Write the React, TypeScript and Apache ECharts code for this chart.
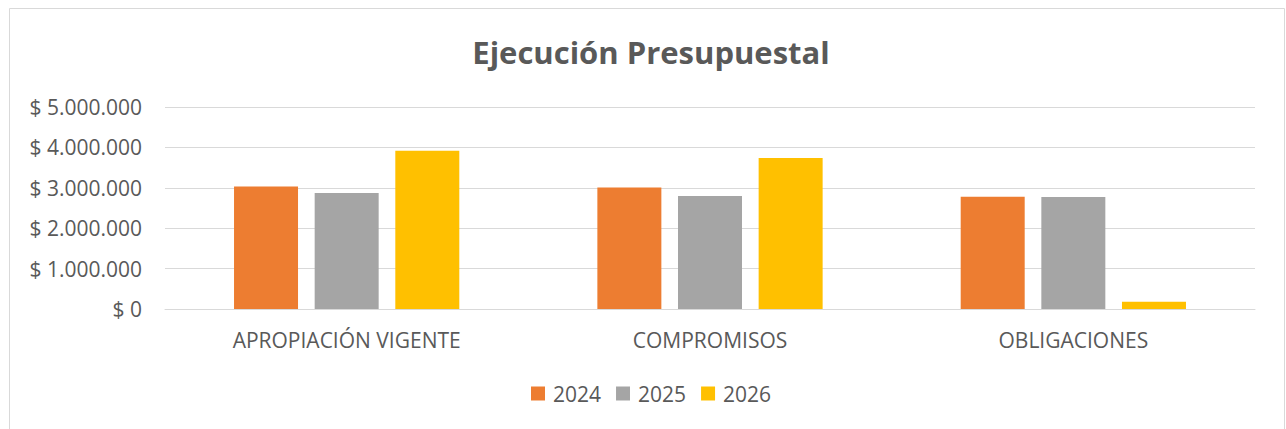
import React, { useEffect, useRef } from "react";
import * as echarts from "echarts";

const categories = ["APROPIACIÓN VIGENTE", "COMPROMISOS", "OBLIGACIONES"];
const seriesNames = ["2024", "2025", "2026"];
const values2024 = [3030000, 3010000, 2780000];
const values2025 = [2870000, 2800000, 2770000];
const values2026 = [3920000, 3740000, 180000];
const colors = ["#ED7D31", "#A5A5A5", "#FFC000"];
const yTicks = [0, 1000000, 2000000, 3000000, 4000000, 5000000];

const FONT = "'Open Sans', sans-serif";
const TEXT = "#595959";

function fmt(v: number): string {
  if (v === 0) return "$ 0";
  return "$ " + String(Math.round(v)).replace(/\B(?=(\d{3})+(?!\d))/g, ".");
}

export default function App() {
  const ref = useRef<HTMLDivElement>(null);
  useEffect(() => {
    if (!ref.current) return;
    const chart = echarts.init(ref.current, null, { renderer: "svg" });
    const data = [values2024, values2025, values2026];
    chart.setOption({
      animation: false,
      backgroundColor: "#ffffff",
      title: {
        text: "Ejecución Presupuestal",
        left: 646,
        top: 31,
        textAlign: "center",
        textStyle: { fontFamily: FONT, fontSize: 31, fontWeight: "bold", color: TEXT },
      },
      graphic: [
        {
          type: "rect",
          shape: { x: 9.5, y: 8.5, width: 1275, height: 440 },
          style: { fill: "none", stroke: "#d9d9d9", lineWidth: 1 },
          silent: true,
        },
      ],
      legend: {
        data: seriesNames,
        top: 378,
        left: 526,
        itemWidth: 14,
        itemHeight: 14,
        itemGap: 15,
        icon: "rect",
        textStyle: { fontFamily: FONT, fontSize: 21, color: TEXT, padding: [0, 0, 0, 3] },
      },
      grid: { left: 165, right: 31, top: 107, bottom: 120, containLabel: false },
      xAxis: {
        type: "category",
        data: categories,
        axisLine: { lineStyle: { color: "#d9d9d9", width: 1 } },
        axisTick: { show: false },
        axisLabel: { fontFamily: FONT, fontSize: 21, color: TEXT, margin: 20 },
      },
      yAxis: {
        type: "value",
        min: yTicks[0],
        max: yTicks[yTicks.length - 1],
        interval: yTicks[1] - yTicks[0],
        axisLine: { show: false },
        axisTick: { show: false },
        splitLine: { lineStyle: { color: "#d9d9d9", width: 1 } },
        axisLabel: { fontFamily: FONT, fontSize: 21, color: TEXT, margin: 23, formatter: fmt },
      },
      series: seriesNames.map((name, i) => ({
        name,
        type: "bar",
        data: data[i],
        barWidth: 64,
        barGap: "26%",
        itemStyle: { color: colors[i] },
      })),
    });
    return () => chart.dispose();
  }, []);
  return (
    <div
      ref={ref}
      style={{ position: "fixed", left: 0, top: 0, width: 1286, height: 429 }}
    />
  );
}
